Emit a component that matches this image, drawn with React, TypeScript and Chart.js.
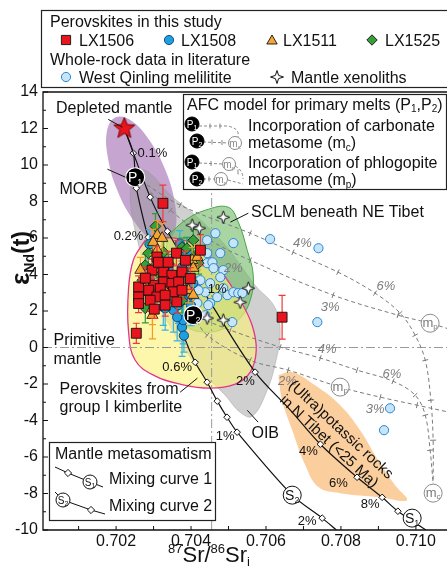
import React, { useEffect, useRef } from 'react';
import { Chart, registerables } from 'chart.js';
Chart.register(...registerables);

const FONT = '"Liberation Sans", Arial, Helvetica, sans-serif';

// ---------- axes ----------
const X_MIN = 0.70005;
const X_MAX = 0.71083;
const Y_MIN = -10;
const Y_MAX = 14;
const xTickValues = [0.701, 0.702, 0.703, 0.704, 0.705, 0.706, 0.707, 0.708, 0.709, 0.71];
const yTickValues = [-10, -9, -8, -7, -6, -5, -4, -3, -2, -1, 0, 1, 2, 3, 4, 5, 6, 7, 8, 9, 10, 11, 12, 13, 14];

// ---------- perovskites in this study [87Sr/86Sr, eNd, err] ----------
const lx1506 = [
  [0.70325, 7.9, 1.0], [0.70425, 5.33, 0.85], [0.70643, 1.66, 1.2], [0.70254, 0.78, 0.55],
  [0.70309, 4.96, 0.6], [0.70361, 5.17, 0.7], [0.70296, 4.24, 0.6], [0.70327, 4.14, 0.5],
  [0.70349, 3.96, 0.6], [0.70376, 4.14, 0.6], [0.703, 3.41, 0.5], [0.70327, 3.59, 0.6],
  [0.70349, 3.51, 0.5], [0.70367, 3.59, 0.6], [0.7026, 3.32, 0.6], [0.7026, 2.77, 0.6],
  [0.7026, 2.41, 0.5], [0.70287, 3.14, 0.6], [0.70318, 3.23, 0.5], [0.70353, 3.05, 0.6],
  [0.70309, 2.77, 0.6], [0.70331, 2.87, 0.5], [0.70291, 2.59, 0.6], [0.70362, 2.5, 0.6],
  [0.70331, 2.32, 0.6], [0.70376, 3.14, 0.5], [0.70398, 3.78, 0.6], [0.70313, 4.67, 0.5],
  [0.70339, 4.67, 0.6], [0.70278, 3.8, 0.6], [0.70385, 4.78, 0.5], [0.70302, 2.1, 0.5],
];
const lx1508 = [
  [0.70289, 5.66, 0.8], [0.70326, 2.21, 1.0], [0.70353, 2.04, 1.2], [0.70376, 1.11, 1.6],
  [0.70379, 1.5, 1.3], [0.70366, 2.32, 1.0], [0.70376, 4.4, 0.8], [0.70392, 4.07, 0.8],
  [0.70406, 3.52, 0.8], [0.70398, 2.87, 1.0], [0.7035, 3.41, 0.8], [0.70331, 2.15, 1.2],
  [0.70363, 1.66, 1.3], [0.7037, 5.7, 0.7], [0.7039, 5.2, 0.8], [0.7034, 4.3, 0.7],
  [0.7032, 3.3, 0.8], [0.7036, 3.0, 0.9], [0.7041, 4.6, 0.7], [0.704, 2.3, 1.1],
  [0.7029, 3.7, 0.8], [0.7038, 2.6, 1.0], [0.70381, 0.65, 0.9],
];
const lx1511 = [
  [0.7031, 6.15, 0.8], [0.70323, 5.99, 0.8], [0.70299, 5.77, 0.7], [0.70403, 4.78, 0.7],
  [0.70406, 4.35, 0.6], [0.70283, 3.03, 0.7], [0.70371, 3.41, 0.6], [0.70393, 3.14, 0.7],
  [0.70337, 3.14, 0.6], [0.70299, 2.76, 0.7], [0.70297, 1.77, 1.3], [0.70297, 2.15, 0.9],
  [0.70417, 4.95, 0.7], [0.70406, 2.87, 0.7], [0.70334, 3.03, 0.8], [0.70265, 4.24, 0.7],
  [0.7031, 5.33, 0.6],
];
const lx1525 = [
  [0.70305, 6.64, 0.7], [0.70286, 5.17, 0.6], [0.70327, 5.22, 0.6], [0.70376, 5.5, 0.5],
  [0.70406, 5.88, 0.6], [0.70278, 4.51, 0.6], [0.703, 4.4, 0.6], [0.70406, 4.95, 0.5],
  [0.7042, 4.62, 0.6], [0.7027, 3.69, 0.7], [0.70291, 3.52, 0.6], [0.70376, 2.59, 0.7],
  [0.70389, 3.69, 0.6], [0.70278, 2.15, 0.8], [0.70389, 5.44, 0.6], [0.7034, 4.6, 0.5],
  [0.70318, 3.96, 0.5],
];

// ---------- whole-rock data in literature ----------
const westQinling = [
  [0.70465, 6.26], [0.70513, 5.72], [0.70611, 5.94], [0.7074, 5.44], [0.70737, 1.39],
  [0.70931, -3.33], [0.70915, -4.53], [0.70443, 5.88], [0.70478, 5.17], [0.70443, 5.17],
  [0.70443, 4.62], [0.70457, 4.67], [0.7046, 4.35], [0.70486, 4.24], [0.70478, 3.85],
  [0.70451, 3.52], [0.70438, 3.03], [0.70486, 3.25], [0.7047, 2.76], [0.70497, 2.87],
  [0.70513, 3.03], [0.70451, 2.43], [0.70438, 1.77], [0.70417, 2.43], [0.7042, 3.14],
  [0.70425, 3.69], [0.70526, 2.98], [0.70537, 2.98], [0.7051, 1.39], [0.70446, 2.32],
];
const xenoliths = [
  [0.70486, 7.14], [0.70403, 6.7], [0.70422, 6.54], [0.70553, 3.25], [0.70531, 2.48],
  [0.70443, 1.61], [0.70486, 1.5],
];

// ---------- end members ----------
const depletedMantle = [[0.70222, 12]];
const primaryMelts = [[0.70251, 9.33, '1'], [0.70406, 1.77, '2']];
const mixEnds = [[0.7099, -9.35, '1'], [0.7067, -8.09, '2']];
const metasomes = [[0.71046, -7.98, 'c'], [0.71038, 1.33, 'p'], [0.70798, -2.17, 'p']];

// ---------- fields ----------
const morbField = [
  [0.70335, 5.72], [0.70294, 5.9], [0.70246, 6.97], [0.70203, 8.63], [0.70178, 10.43],
  [0.70176, 11.89], [0.70199, 12.62], [0.70241, 12.43], [0.70289, 11.35], [0.70332, 9.7],
  [0.70357, 7.9], [0.70358, 6.44], [0.70335, 5.72],
];
const oibField = [
  [0.70246, 9.82], [0.70286, 9.61], [0.70345, 8.35], [0.70411, 7.25], [0.70491, 5.61],
  [0.70571, 3.41], [0.70622, 2.26], [0.70638, 0.95], [0.70627, -0.7], [0.70601, -2.45],
  [0.70563, -3.77], [0.70531, -3.55], [0.70491, -2.61], [0.70425, -1.24], [0.7035, 0.95],
  [0.70291, 3.41], [0.70257, 5.88], [0.70238, 8.07], [0.70246, 9.82],
];
const sclmField = [
  [0.70339, 6.15], [0.70385, 6.98], [0.70438, 7.52], [0.70499, 7.69], [0.70526, 6.87],
  [0.7055, 5.33], [0.70566, 3.96], [0.70558, 2.59], [0.70531, 1.61], [0.70491, 1.06],
  [0.70438, 0.84], [0.70385, 1.22], [0.7035, 2.59], [0.70331, 4.51], [0.70339, 6.15],
];
const kimberliteField = [
  [0.70278, 5.88], [0.70358, 5.99], [0.70425, 5.44], [0.70478, 4.24], [0.70531, 2.59],
  [0.70563, 1.22], [0.70574, -0.15], [0.70558, -1.35], [0.70518, -2.01], [0.70451, -2.23],
  [0.70371, -2.01], [0.70305, -1.57], [0.70251, -0.7], [0.70233, 0.95], [0.70233, 3.14],
  [0.70246, 4.78], [0.70278, 5.88],
];
const ultrapotassicField = [
  [0.70633, -1.52], [0.7067, -1.35], [0.70731, -2.07], [0.70798, -3.16], [0.70851, -4.53],
  [0.70899, -6.17], [0.70944, -7.54], [0.70976, -8.37], [0.70905, -8.2], [0.70798, -7.98],
  [0.7074, -7.65], [0.70705, -6.45], [0.7067, -4.53], [0.70643, -2.89], [0.70633, -1.52],
];

// ---------- model curves [x, y, marker?] ----------
const mixingCurve1 = [
  [0.70222, 12, 0], [0.70291, 8.24, 1], [0.70337, 6.37, 1], [0.70443, 2.76, 0], [0.70571, -1.35, 1],
  [0.70665, -3.43, 0], [0.70745, -5.3, 1], [0.70843, -7.11, 1], [0.7091, -8.21, 1], [0.70952, -8.97, 1],
  [0.71027, -10, 0],
];
const mixingCurve2 = [
  [0.70222, 12, 0], [0.70246, 10.65, 1], [0.70251, 9.33, 0], [0.70254, 8.73, 1], [0.70286, 6.04, 1],
  [0.70382, 0.56, 1], [0.70411, -0.81, 1], [0.70443, -1.9, 1], [0.7047, -2.94, 1], [0.70496, -3.82, 1],
  [0.70523, -4.64, 1], [0.7067, -8.09, 0], [0.7075, -9.35, 1], [0.70788, -10, 0],
];
const afcP1mc = [
  [0.70251, 9.33], [0.70371, 7.8], [0.70558, 6.26], [0.70672, 5.22], [0.70792, 4.13], [0.70891, 2.98],
  [0.70958, 1.88], [0.70998, 0.67], [0.71025, -0.7], [0.7104, -2.89], [0.71046, -5.08], [0.71046, -7.44],
];
const afcP1mp = [
  [0.70251, 9.33], [0.70345, 7.52], [0.70451, 5.88], [0.70558, 4.78], [0.70779, 2.87], [0.70952, 1.77],
  [0.71038, 1.33], [0.7109, 1.0],
];
const afcP2mc = [
  [0.70406, 1.77], [0.70505, 0.95], [0.70638, 0.02], [0.70745, -0.58], [0.70843, -1.24], [0.70939, -1.85],
  [0.70998, -2.61], [0.71025, -3.71], [0.71038, -5.63], [0.71046, -7.44],
];
const afcP2mp = [
  [0.70406, 1.77], [0.70443, 0.67], [0.70558, -0.7], [0.70659, -1.24], [0.70798, -2.17], [0.70905, -2.72],
  [0.71003, -3.16], [0.7109, -3.55],
];
const primitiveMantle = [0.70455, 0];

// ---------- annotations ----------
const blackPctLabels = [
  [0.70297, 10.7, '0.1%'], [0.70233, 6.15, '0.2%'], [0.7047, 3.25, '1%'], [0.70363, -1.02, '0.6%'],
  [0.70545, -1.79, '2%'], [0.70491, -4.8, '1%'], [0.70713, -5.63, '4%'], [0.70793, -7.38, '6%'],
  [0.70878, -8.53, '8%'], [0.7071, -9.46, '2%'],
];
const grayPctLabels = [
  [0.70697, 5.77, '4%'], [0.7092, 3.41, '6%'], [0.70513, 4.4, '2%'], [0.70771, 2.26, '3%'],
  [0.70763, -0.04, '4%'], [0.70936, -1.41, '6%'], [0.70657, -1.79, '2%'], [0.70891, -3.33, '3%'],
];
const fieldLabels = [
  [0.70195, 13.17, 'Depleted mantle', 'center'],
  [0.70113, 8.73, 'MORB', 'center'],
  [0.7056, 7.47, 'SCLM beneath NE Tibet', 'left'],
  [0.70033, 0.45, 'Primitive', 'left'],
  [0.70033, -0.59, 'mantle', 'left'],
  [0.70049, -2.23, 'Perovskites from', 'left'],
  [0.70049, -3.22, 'group I kimberlite', 'left'],
  [0.70598, -4.64, 'OIB', 'center'],
];
const leaderLines = [
  [0.70179, 12.5, 0.70217, 12.07],
  [0.70177, 9.77, 0.70225, 9.33],
  [0.70553, 7.36, 0.70505, 6.87],
  [0.70371, -2.45, 0.70417, -1.68],
  [0.70579, -4.09, 0.7055, -3.44],
];
const rotatedLabels = [
  [0.70801, -4.48, '(Ultra)potassic rocks'],
  [0.70769, -5.13, 'in N Tibet (<25 Ma)'],
];

// ---------- drawing helpers ----------
type Seg = [string, number, number?, string?];
function fnt(size: number, style = '') {
  return `${style} ${size}px ${FONT}`.trim();
}
function rich(ctx: CanvasRenderingContext2D, segs: Seg[], x: number, y: number, align: string, color: string) {
  ctx.save();
  ctx.fillStyle = color;
  ctx.textAlign = 'left';
  ctx.textBaseline = 'alphabetic';
  let w = 0;
  for (const s of segs) { ctx.font = fnt(s[1], s[3] || ''); w += ctx.measureText(s[0]).width; }
  let cx = align === 'center' ? x - w / 2 : align === 'right' ? x - w : x;
  for (const s of segs) {
    ctx.font = fnt(s[1], s[3] || '');
    ctx.fillText(s[0], cx, y + (s[2] || 0));
    cx += ctx.measureText(s[0]).width;
  }
  ctx.restore();
}
function starPath(ctx: CanvasRenderingContext2D, x: number, y: number, n: number, R: number, r: number) {
  ctx.beginPath();
  for (let i = 0; i < 2 * n; i++) {
    const a = -Math.PI / 2 + (i * Math.PI) / n;
    const rr = i % 2 === 0 ? R : r;
    const px = x + rr * Math.cos(a);
    const py = y + rr * Math.sin(a);
    if (i === 0) ctx.moveTo(px, py); else ctx.lineTo(px, py);
  }
  ctx.closePath();
}
function shape(ctx: CanvasRenderingContext2D, kind: string, x: number, y: number, r: number, fill: string, stroke: string, lw = 1) {
  ctx.save();
  ctx.beginPath();
  if (kind === 'circle') ctx.arc(x, y, r, 0, Math.PI * 2);
  else if (kind === 'square') ctx.rect(x - r, y - r, 2 * r, 2 * r);
  else if (kind === 'diamond') { ctx.moveTo(x, y - r); ctx.lineTo(x + r, y); ctx.lineTo(x, y + r); ctx.lineTo(x - r, y); ctx.closePath(); }
  else if (kind === 'triangle') { ctx.moveTo(x, y - r); ctx.lineTo(x + r * 0.866, y + r * 0.5); ctx.lineTo(x - r * 0.866, y + r * 0.5); ctx.closePath(); }
  else if (kind === 'star4') starPath(ctx, x, y, 4, r, r * 0.35);
  ctx.fillStyle = fill;
  ctx.fill();
  ctx.lineWidth = lw;
  ctx.strokeStyle = stroke;
  ctx.stroke();
  ctx.restore();
}

const RED = '#e8141e';
const BLUE = '#1f9fe2';
const ORANGE = '#f6a531';
const GREEN = '#35a03a';
const LIGHTBLUE = '#c7e5f8';

const errorBars = {
  id: 'errorBars',
  beforeDatasetDraw(chart: any, args: any) {
    const ds = chart.data.datasets[args.index];
    if (!ds.errs) return;
    const ctx = chart.ctx;
    const xs = chart.scales.x;
    const ys = chart.scales.y;
    ctx.save();
    ctx.strokeStyle = ds.errColor;
    ctx.lineWidth = 1.2;
    ds.data.forEach((p: any, i: number) => {
      const e = ds.errs[i];
      const x = xs.getPixelForValue(p.x);
      const y1 = ys.getPixelForValue(p.y + e);
      const y2 = ys.getPixelForValue(p.y - e);
      ctx.beginPath();
      ctx.moveTo(x, y1); ctx.lineTo(x, y2);
      ctx.moveTo(x - 3.5, y1); ctx.lineTo(x + 3.5, y1);
      ctx.moveTo(x - 3.5, y2); ctx.lineTo(x + 3.5, y2);
      ctx.stroke();
    });
    ctx.restore();
  },
};

const overlay = {
  id: 'overlay',
  afterDatasetsDraw(chart: any) {
    const ctx: CanvasRenderingContext2D = chart.ctx;
    const xs = chart.scales.x;
    const ys = chart.scales.y;
    const X = (v: number) => xs.getPixelForValue(v);
    const Y = (v: number) => ys.getPixelForValue(v);
    ctx.save();
    ctx.strokeStyle = '#111';
    ctx.lineWidth = 1;
    for (const l of leaderLines) {
      ctx.beginPath(); ctx.moveTo(X(l[0]), Y(l[1])); ctx.lineTo(X(l[2]), Y(l[3])); ctx.stroke();
    }
    ctx.restore();
    for (const p of primaryMelts) rich(ctx, [['P', 14], [p[2] as string, 9, 3]], X(p[0] as number), Y(p[1] as number) + 5, 'center', '#fff');
    for (const p of mixEnds) rich(ctx, [['S', 14], [p[2] as string, 9, 3]], X(p[0] as number), Y(p[1] as number) + 5, 'center', '#111');
    for (const p of metasomes) rich(ctx, [['m', 13], [p[2] as string, 8, 2]], X(p[0] as number), Y(p[1] as number) + 4, 'center', '#7a7a7a');
    for (const l of fieldLabels) rich(ctx, [[l[2] as string, 16]], X(l[0] as number), Y(l[1] as number) + 6, l[3] as string, '#111');
    for (const l of blackPctLabels) rich(ctx, [[l[2] as string, 13]], X(l[0] as number), Y(l[1] as number) + 5, 'center', '#111');
    for (const l of grayPctLabels) rich(ctx, [[l[2] as string, 13, 0, 'italic']], X(l[0] as number), Y(l[1] as number) + 5, 'center', '#7d7d7d');
    for (const l of rotatedLabels) {
      ctx.save();
      ctx.translate(X(l[0] as number), Y(l[1] as number));
      ctx.rotate((43 * Math.PI) / 180);
      rich(ctx, [[l[2] as string, 15]], 0, 5, 'center', '#111');
      ctx.restore();
    }
  },
  afterDraw(chart: any) {
    const ctx: CanvasRenderingContext2D = chart.ctx;
    const a = chart.chartArea;
    const xs = chart.scales.x;
    const ys = chart.scales.y;
    ctx.save();
    ctx.strokeStyle = '#111';
    ctx.lineWidth = 1.3;
    ctx.beginPath();
    ctx.moveTo(a.right + 10, a.top); ctx.lineTo(a.left, a.top); ctx.lineTo(a.left, a.bottom); ctx.lineTo(a.right + 10, a.bottom);
    ctx.stroke();
    ctx.lineWidth = 1;
    for (const v of yTickValues) {
      const y = ys.getPixelForValue(v);
      const len = v % 2 === 0 ? 5 : 3;
      ctx.beginPath(); ctx.moveTo(a.left, y); ctx.lineTo(a.left + len, y); ctx.stroke();
    }
    for (const v of xTickValues) {
      const x = xs.getPixelForValue(v);
      ctx.beginPath(); ctx.moveTo(x, a.bottom); ctx.lineTo(x, a.bottom - 4); ctx.stroke();
    }
    ctx.restore();
    // axis titles
    ctx.save();
    ctx.translate(21, 258);
    ctx.rotate(-Math.PI / 2);
    rich(ctx, [['ε', 26, 0, 'bold'], ['Nd', 14, 5, 'bold'], ['(t)', 23, 0, 'bold']], 0, 8, 'center', '#111');
    ctx.restore();
    rich(ctx, [['87', 13, -9], ['Sr/', 22], ['86', 13, -9], ['Sr', 22], ['i', 13, 4]], 209, 562, 'center', '#111');

    // top legend box
    ctx.save();
    ctx.fillStyle = '#fff';
    ctx.fillRect(42, 10, 420, 77);
    ctx.strokeStyle = '#222';
    ctx.lineWidth = 1.2;
    ctx.strokeRect(41.5, 10.5, 420, 77);
    ctx.restore();
    rich(ctx, [['Perovskites in this study', 16]], 50, 26.5, 'left', '#111');
    shape(ctx, 'square', 66, 40, 4.6, RED, '#111', 0.9);
    rich(ctx, [['LX1506', 16]], 79, 46, 'left', '#111');
    shape(ctx, 'circle', 169, 40, 4.6, BLUE, '#0b3f70', 0.9);
    rich(ctx, [['LX1508', 16]], 181, 46, 'left', '#111');
    shape(ctx, 'triangle', 272, 41, 6, ORANGE, '#111', 0.9);
    rich(ctx, [['LX1511', 16]], 283, 46, 'left', '#111');
    shape(ctx, 'diamond', 372, 40, 5.2, GREEN, '#111', 0.9);
    rich(ctx, [['LX1525', 16]], 385, 46, 'left', '#111');
    rich(ctx, [['Whole-rock data in literature', 16]], 50, 65, 'left', '#111');
    shape(ctx, 'circle', 66, 77, 4.6, LIGHTBLUE, '#2a86cf', 1);
    rich(ctx, [['West Qinling melilitite', 16]], 79, 83, 'left', '#111');
    shape(ctx, 'star4', 277, 77, 6.5, '#fff', '#111', 1);
    rich(ctx, [['Mantle xenoliths', 16]], 291, 83, 'left', '#111');

    // AFC legend box
    ctx.save();
    ctx.fillStyle = '#fff';
    ctx.fillRect(183, 94, 263.5, 95);
    ctx.strokeStyle = '#222';
    ctx.lineWidth = 1.2;
    ctx.strokeRect(183.5, 94.5, 263, 95);
    ctx.restore();
    rich(ctx, [['AFC model for primary melts (P', 16], ['1', 10, 2], [',P', 16], ['2', 10, 2], [')', 16]], 187, 110, 'left', '#111');
    const pIcon = (x: number, y: number, n: string) => {
      shape(ctx, 'circle', x, y, 7, '#000', '#000', 1);
      rich(ctx, [['P', 10], [n, 7, 2]], x, y + 4, 'center', '#fff');
    };
    const mIcon = (x: number, y: number, s: string) => {
      shape(ctx, 'circle', x, y, 6.5, '#fff', '#8a8a8a', 1);
      rich(ctx, [['m', 10], [s, 6, 2]], x, y + 3.5, 'center', '#8a8a8a');
    };
    ctx.save();
    ctx.strokeStyle = '#888';
    ctx.lineWidth = 1;
    ctx.setLineDash([3, 2]);
    ctx.beginPath();
    ctx.moveTo(199, 126); ctx.lineTo(227, 126); ctx.quadraticCurveTo(240, 128, 238, 137);
    ctx.moveTo(203, 142); ctx.lineTo(229, 143);
    ctx.moveTo(199, 163); ctx.lineTo(223, 164);
    ctx.moveTo(235, 166); ctx.quadraticCurveTo(243, 170, 243, 179);
    ctx.moveTo(203, 179); ctx.lineTo(215, 179);
    ctx.moveTo(228, 180); ctx.lineTo(243, 184);
    ctx.stroke();
    ctx.setLineDash([]);
    ctx.beginPath();
    for (const t of [[210, 126], [220, 126], [212, 142], [222, 142.5], [211, 163.5], [238, 172], [209, 179]]) {
      ctx.moveTo(t[0], t[1] - 2.5); ctx.lineTo(t[0], t[1] + 2.5);
    }
    ctx.stroke();
    ctx.restore();
    pIcon(192, 124, '1');
    pIcon(197, 141, '2');
    mIcon(235, 143, 'c');
    pIcon(192, 162, '1');
    pIcon(197, 179, '2');
    mIcon(229, 164, 'p');
    mIcon(221, 179, 'p');
    rich(ctx, [['Incorporation of carbonate', 16]], 248, 131, 'left', '#111');
    rich(ctx, [['metasome (m', 16], ['c', 10, 3], [')', 16]], 248, 148, 'left', '#111');
    rich(ctx, [['Incorporation of phlogopite', 16]], 248, 168, 'left', '#111');
    rich(ctx, [['metasome (m', 16], ['p', 10, 3], [')', 16]], 248, 185, 'left', '#111');

    // mantle metasomatism box
    ctx.save();
    ctx.fillStyle = '#fff';
    ctx.fillRect(49, 442, 167, 79);
    ctx.strokeStyle = '#222';
    ctx.lineWidth = 1.2;
    ctx.strokeRect(49.5, 442.5, 166, 78);
    ctx.strokeStyle = '#111';
    ctx.lineWidth = 1;
    ctx.beginPath();
    ctx.moveTo(55, 467); ctx.lineTo(68, 473); ctx.lineTo(90, 482); ctx.lineTo(103, 487);
    ctx.moveTo(55, 492); ctx.lineTo(63, 500); ctx.lineTo(91, 510); ctx.lineTo(105, 514);
    ctx.stroke();
    ctx.restore();
    rich(ctx, [['Mantle metasomatism', 16]], 55, 459, 'left', '#111');
    shape(ctx, 'diamond', 68, 473, 3.6, '#fff', '#111', 1);
    shape(ctx, 'circle', 90, 482, 7, '#fff', '#111', 1);
    rich(ctx, [['S', 10], ['1', 7, 2]], 90, 486, 'center', '#111');
    rich(ctx, [['Mixing curve 1', 16]], 109, 484, 'left', '#111');
    shape(ctx, 'circle', 63, 500, 7, '#fff', '#111', 1);
    rich(ctx, [['S', 10], ['2', 7, 2]], 63, 504, 'center', '#111');
    shape(ctx, 'diamond', 91, 510, 3.6, '#fff', '#111', 1);
    rich(ctx, [['Mixing curve 2', 16]], 109, 511, 'left', '#111');
  },
};

const toXY = (arr: any[]) => arr.map((p) => ({ x: p[0], y: p[1] }));

function makeCanvasStar(n: number, R: number, r: number, fill: string, stroke: string, lw: number) {
  const size = Math.ceil(R * 2 + 4);
  const c = document.createElement('canvas');
  c.width = size;
  c.height = size;
  const g = c.getContext('2d')!;
  starPath(g, size / 2, size / 2, n, R, r);
  g.fillStyle = fill;
  g.fill();
  g.lineWidth = lw;
  g.strokeStyle = stroke;
  g.stroke();
  return c;
}

// perpendicular tick rotation for the AFC model lines
function tickRotation(c: any) {
  const d = c.dataset.data;
  const i = c.dataIndex;
  const xs = c.chart.scales.x;
  const ys = c.chart.scales.y;
  if (!xs || !ys) return 0;
  const p = d[Math.max(0, i - 1)];
  const q = d[Math.min(d.length - 1, i + 1)];
  const ang = Math.atan2(ys.getPixelForValue(q.y) - ys.getPixelForValue(p.y), xs.getPixelForValue(q.x) - xs.getPixelForValue(p.x));
  return (ang * 180) / Math.PI + 90;
}

export default function App() {
  const ref = useRef<HTMLCanvasElement>(null);
  useEffect(() => {
    const canvas = ref.current!;
    const xenoStyle = makeCanvasStar(4, 6.5, 2.3, '#fff', '#111', 1);
    const redStarStyle = makeCanvasStar(5, 11, 4.8, RED, '#7a0000', 1);

    const field = (data: number[][], bg: string, border: string, bw: number, order: number) => ({
      data: toXY(data), showLine: true, fill: 'shape', tension: 0.4, backgroundColor: bg,
      borderColor: border, borderWidth: bw, pointRadius: 0, order,
    });
    const dashed = (data: number[][]) => ({
      data: toXY(data), showLine: true, fill: false, tension: 0.35, borderColor: '#7a7a7a',
      borderWidth: 1, borderDash: [4, 3], pointStyle: 'line',
      pointRadius: data.map((_, i) => (i > 0 && i < data.length - 1 ? 3 : 0)),
      pointRotation: tickRotation, pointBorderColor: '#7a7a7a', pointBorderWidth: 1, order: 140,
    });
    const curve = (data: number[][]) => ({
      data: toXY(data), showLine: true, fill: false, tension: 0.3, borderColor: '#111',
      borderWidth: 1.2, pointStyle: 'rectRot', pointRadius: data.map((p) => (p[2] ? 3.3 : 0)),
      pointBackgroundColor: '#fff', pointBorderColor: '#111', pointBorderWidth: 1, order: 130,
    });

    const chart = new Chart(canvas, {
      type: 'scatter',
      data: {
        datasets: [
          field(morbField, 'rgba(176,130,190,0.72)', 'rgba(0,0,0,0)', 0, 210),
          field(oibField, 'rgba(150,150,150,0.45)', 'rgba(140,140,140,0.6)', 0.6, 205),
          field(sclmField, 'rgba(110,185,100,0.6)', '#47a447', 1, 200),
          field(ultrapotassicField, 'rgba(250,198,140,0.85)', 'rgba(0,0,0,0)', 0, 200),
          field(kimberliteField, 'rgba(252,242,120,0.62)', '#e5338d', 1.3, 195),
          {
            data: [{ x: X_MIN, y: primitiveMantle[1] }, { x: X_MAX, y: primitiveMantle[1] }],
            showLine: true, borderColor: '#9a9a9a', borderWidth: 1, borderDash: [9, 3, 2, 3], pointRadius: 0, order: 150,
          },
          {
            data: [{ x: primitiveMantle[0], y: Y_MIN }, { x: primitiveMantle[0], y: Y_MAX }],
            showLine: true, borderColor: '#9a9a9a', borderWidth: 1, borderDash: [9, 3, 2, 3], pointRadius: 0, order: 150,
          },
          dashed(afcP1mc),
          dashed(afcP1mp),
          dashed(afcP2mc),
          dashed(afcP2mp),
          curve(mixingCurve1),
          curve(mixingCurve2),
          {
            data: toXY(westQinling), pointStyle: 'circle', pointRadius: 4.6, backgroundColor: LIGHTBLUE,
            borderColor: '#2a86cf', borderWidth: 1, order: 25,
          },
          {
            data: toXY(lx1508), errs: lx1508.map((p) => p[2]), errColor: '#37b3e6', pointStyle: 'circle',
            pointRadius: 4.6, backgroundColor: BLUE, borderColor: '#0b3f70', borderWidth: 0.9, order: 20,
          },
          {
            data: toXY(lx1525), errs: lx1525.map((p) => p[2]), errColor: '#2f9a3c', pointStyle: 'rectRot',
            pointRadius: 5.5, backgroundColor: GREEN, borderColor: '#111', borderWidth: 0.8, order: 18,
          },
          {
            data: toXY(lx1511), errs: lx1511.map((p) => p[2]), errColor: '#f29a25', pointStyle: 'triangle',
            pointRadius: 6.5, backgroundColor: ORANGE, borderColor: '#111', borderWidth: 0.8, order: 16,
          },
          {
            data: toXY(lx1506), errs: lx1506.map((p) => p[2]), errColor: '#ef3a3a', pointStyle: 'rect',
            pointRadius: 7, backgroundColor: RED, borderColor: '#111', borderWidth: 0.9, order: 14,
          },
          { data: toXY(xenoliths), pointStyle: xenoStyle, pointRadius: 7, order: 12 },
          {
            data: toXY(primaryMelts), pointStyle: 'circle', pointRadius: 9.5, backgroundColor: '#000',
            borderColor: '#fff', borderWidth: 1.2, order: 5,
          },
          {
            data: toXY(mixEnds), pointStyle: 'circle', pointRadius: 9, backgroundColor: '#fff',
            borderColor: '#111', borderWidth: 1, order: 5,
          },
          {
            data: toXY(metasomes), pointStyle: 'circle', pointRadius: 9, backgroundColor: '#fff',
            borderColor: '#8a8a8a', borderWidth: 1, order: 5,
          },
          { data: toXY(depletedMantle), pointStyle: redStarStyle, pointRadius: 11, order: 1 },
        ] as any,
      },
      options: {
        responsive: false,
        animation: false,
        devicePixelRatio: 1,
        events: [],
        layout: { autoPadding: false, padding: { top: 92, left: 0, right: 0, bottom: 0 } },
        plugins: { legend: { display: false }, tooltip: { enabled: false }, title: { display: false } },
        scales: {
          x: {
            type: 'linear', min: X_MIN, max: X_MAX,
            afterFit: (s: any) => { s.height = 37; },
            afterBuildTicks: (s: any) => { s.ticks = xTickValues.map((v) => ({ value: v })); },
            grid: { display: false, drawTicks: false },
            border: { display: false },
            ticks: {
              autoSkip: false, maxRotation: 0, padding: 2, color: '#111',
              font: { family: FONT, size: 16 },
              callback: (v: any) => { const m = Math.round(Number(v) * 1000); return m % 2 === 0 ? (m / 1000).toFixed(3) : ''; },
            },
          },
          y: {
            type: 'linear', min: Y_MIN, max: Y_MAX,
            afterFit: (s: any) => { s.width = 43; },
            grid: { display: false, drawTicks: false },
            border: { display: false },
            ticks: { stepSize: 2, padding: 5, color: '#111', font: { family: FONT, size: 16 }, callback: (v: any) => String(v) },
          },
        },
      } as any,
      plugins: [errorBars, overlay],
    });
    return () => chart.destroy();
  }, []);
  return (
    <div style={{ position: 'absolute', left: 0, top: 0, width: 447, height: 567, background: '#fff' }}>
      <canvas ref={ref} width={447} height={567} style={{ display: 'block', width: 447, height: 567 }} />
    </div>
  );
}
